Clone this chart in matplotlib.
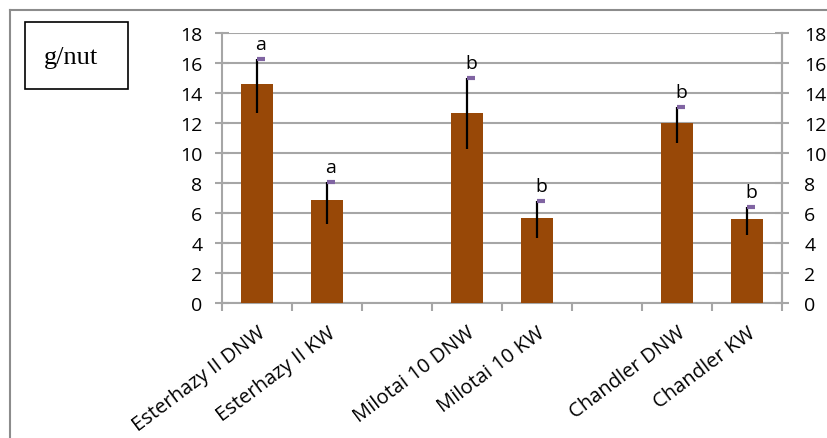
import numpy as np
import matplotlib
matplotlib.use("Agg")
import matplotlib.pyplot as plt
from matplotlib.patches import Rectangle
from matplotlib.lines import Line2D

plt.rcParams['font.family'] = ['Open Sans', 'DejaVu Sans']

# Category slots (blank slots separate the cultivars)
categories = ["Esterhazy II DNW", "Esterhazy II KW", "",
              "Milotai 10 DNW", "Milotai 10 KW", "",
              "Chandler DNW", "Chandler KW"]
values   = [14.6, 6.85, np.nan, 12.7, 5.65, np.nan, 12.0, 5.6]
err_low  = [1.9, 1.55, np.nan, 2.45, 1.3, np.nan, 1.3, 1.05]
err_high = [1.7, 1.25, np.nan, 2.3, 1.15, np.nan, 1.1, 0.8]
letters  = ["a", "a", "", "b", "b", "", "b", "b"]
unit_label = "g/nut"
yticks = list(range(0, 19, 2))

bar_color = "#984807"
grid_color = "#A6A6A6"
cap_color = "#8064A2"

fig = plt.figure(figsize=(8.27, 4.39), dpi=100)
ax = fig.add_axes([222/827, 1-304/439, 560/827, 270/439])

x = np.arange(len(categories))
vals = np.array(values, dtype=float)
lo = np.array(err_low, dtype=float)
hi = np.array(err_high, dtype=float)

ax.bar(x, vals, width=0.47, color=bar_color, zorder=3)

# error bars: black stem, purple cap on the upper end
mask = ~np.isnan(vals)
ax.vlines(x[mask], (vals - lo)[mask], (vals + hi)[mask], color="black", lw=1.6, zorder=4)
ax.hlines((vals + hi)[mask], x[mask], x[mask] + 0.115, color=cap_color, lw=3, zorder=5)

for xi, v, h, t in zip(x, vals, hi, letters):
    if t:
        ax.annotate(t, (xi + 0.057, v + h), xytext=(0, 4), textcoords="offset points",
                    ha="center", va="bottom", fontsize=14, color="black", zorder=6)

ax.set_xlim(-0.5, len(categories) - 0.5)
ax.set_ylim(0, 18)
ax.set_yticks(yticks)
ax.yaxis.grid(True, color=grid_color, lw=1.5, zorder=0)
ax.set_axisbelow(True)

ax.set_xticks(x[mask])
ax.set_xticklabels([c for c, m in zip(categories, mask) if m], rotation=37, ha="right",
                   rotation_mode="anchor", fontsize=14.5)
ax.set_xticks(np.arange(-0.5, len(categories)), minor=True)
ax.tick_params(axis="x", which="major", length=0, pad=14)
ax.tick_params(axis="x", which="minor", length=6, width=1.5, color=grid_color)
ax.tick_params(axis="y", direction="inout", length=10, width=1.5, color=grid_color,
               labelsize=14, pad=9)

ax.spines["top"].set_visible(False)
for side in ["left", "right", "bottom"]:
    ax.spines[side].set_color(grid_color)
    ax.spines[side].set_linewidth(1.5)

ax2 = ax.twinx()
ax2.set_ylim(0, 18)
ax2.set_yticks(yticks)
ax2.tick_params(axis="y", direction="inout", length=10, width=1.5, color=grid_color,
                labelsize=14, pad=11)
for side in ["top", "left", "bottom"]:
    ax2.spines[side].set_visible(False)
ax2.spines["right"].set_color(grid_color)
ax2.spines["right"].set_linewidth(1.5)

# outer chart frame
fig.add_artist(Line2D([10/827, 1.0], [1-11/439, 1-11/439], transform=fig.transFigure,
                      color="#8C8C8C", lw=1.5))
fig.add_artist(Line2D([10/827, 10/827], [1-11/439, 0.0], transform=fig.transFigure,
                      color="#8C8C8C", lw=1.5))

# unit box
fig.add_artist(Rectangle((25/827, 1-90/439), 103/827, 67/439, transform=fig.transFigure,
                         fill=False, edgecolor="black", lw=1.2))
fig.text(71/827, 1-58/439, unit_label, ha="center", va="center", fontsize=19,
         family="Liberation Serif")

fig.savefig("out.png", dpi=100)
